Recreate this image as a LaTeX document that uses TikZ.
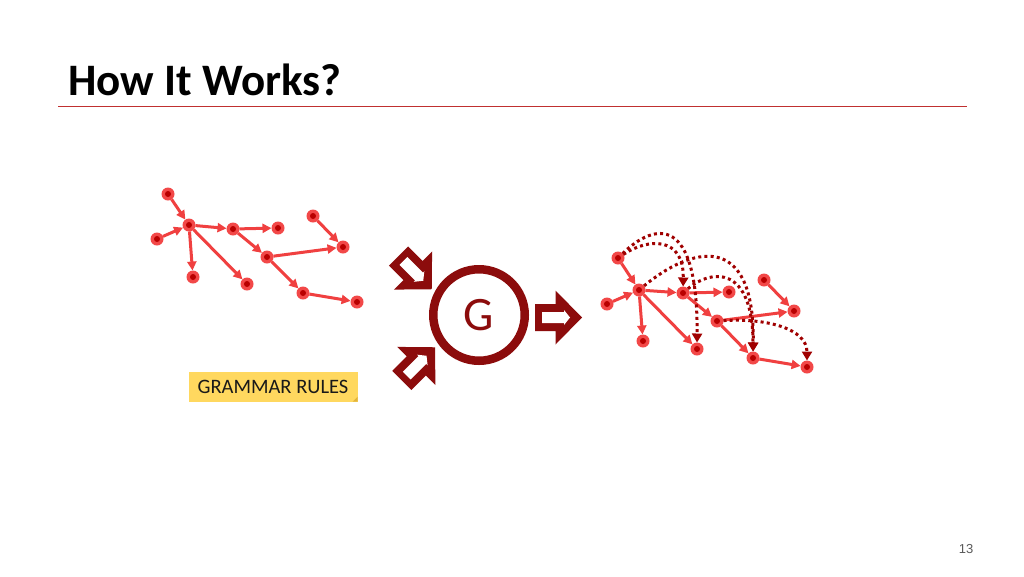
\documentclass[tikz,border=0pt]{standalone}
\usepackage{fontspec}
\setmainfont{Carlito}
\newfontfamily\pgfont{Liberation Sans}
\usetikzlibrary{arrows.meta}
\definecolor{nodeout}{RGB}{242,72,72}
\definecolor{nodein}{RGB}{185,0,0}
\definecolor{edgec}{RGB}{240,64,64}
\definecolor{dotc}{RGB}{160,0,0}
\definecolor{gred}{RGB}{140,12,12}
\definecolor{titleline}{RGB}{192,48,48}
\definecolor{noteyellow}{RGB}{255,216,95}
\definecolor{notefold}{RGB}{225,180,60}
\definecolor{pggray}{RGB}{90,90,90}
\definecolor{notetext}{RGB}{25,25,25}
\tikzset{
  gnode/.style={circle,fill=nodeout,minimum size=13pt,inner sep=0pt,outer sep=0pt,
    path picture={\fill[nodein] (path picture bounding box.center) circle (3pt);}},
  gedge/.style={draw=edgec,line width=3pt,-{Triangle[length=9pt,width=9pt]}},
  dedge/.style={draw=dotc,line width=3pt,dash pattern=on 3pt off 3.2pt,-{Triangle[length=9pt,width=10pt]}},
  arrowouter/.style={fill=gred},
  arrowinner/.style={fill=white},
}
\newcommand{\myblockarrow}{%
  \fill[arrowouter] (0,-13.5) -- (20.5,-13.5) -- (20.5,-27) -- (47,0) -- (20.5,27) -- (20.5,13.5) -- (0,13.5) -- cycle;
  \fill[arrowinner] (7,-5.5) -- (29,-5.5) -- (29,-7.5) -- (35,0) -- (29,7.5) -- (29,5.5) -- (7,5.5) -- cycle;}
\begin{document}
\begin{tikzpicture}[x=1pt,y=-1pt]
\useasboundingbox (0,0) rectangle (1024,576);
\fill[white] (0,0) rectangle (1024,576);

% title
\node[anchor=base west,inner sep=0pt,font=\fontsize{45}{50}\selectfont\bfseries] (title) at (68,95) {How It Works?};
\draw[titleline,line width=1.3pt] (58,106.5) -- (967,106.5);

% left graph nodes
\node[gnode] (a1) at (168,194) {};
\node[gnode] (b1) at (189,225) {};
\node[gnode] (c1) at (157,239) {};
\node[gnode] (d1) at (233,229) {};
\node[gnode] (e1) at (278,228) {};
\node[gnode] (f1) at (313,216) {};
\node[gnode] (g1) at (343,247) {};
\node[gnode] (h1) at (267,257) {};
\node[gnode] (i1) at (193,277) {};
\node[gnode] (j1) at (247,284) {};
\node[gnode] (k1) at (303,293) {};
\node[gnode] (l1) at (357,302) {};
\foreach \s/\t in {a1/b1,c1/b1,b1/d1,d1/e1,d1/h1,f1/g1,h1/g1,b1/i1,b1/j1,h1/k1,k1/l1}
  \draw[gedge] (\s) -- (\t);

% right graph nodes
\node[gnode] (a2) at (618,258) {};
\node[gnode] (b2) at (639,290) {};
\node[gnode] (c2) at (607,304) {};
\node[gnode] (d2) at (683,293) {};
\node[gnode] (e2) at (729,292) {};
\node[gnode] (f2) at (764,280) {};
\node[gnode] (g2) at (794,311) {};
\node[gnode] (h2) at (717,321) {};
\node[gnode] (i2) at (643,341) {};
\node[gnode] (j2) at (697,349) {};
\node[gnode] (k2) at (753,358) {};
\node[gnode] (l2) at (807,367) {};
\foreach \s/\t in {a2/b2,c2/b2,b2/d2,d2/e2,d2/h2,f2/g2,h2/g2,b2/i2,b2/j2,h2/k2,k2/l2}
  \draw[gedge] (\s) -- (\t);

% dotted derived edges
\draw[dedge] (a2) .. controls (648,238) and (684,236) .. (d2);
\draw[dedge] (a2) .. controls (655,222) and (698,214) .. (j2);
\draw[dedge] (b2) .. controls (690,248) and (755,228) .. (k2);
\draw[dedge] (d2) .. controls (712,268) and (753,266) .. (k2);
\draw[dedge] (h2) .. controls (765,318) and (807,328) .. (l2);

% generator
\node[circle,draw=gred,line width=8.5pt,minimum size=91.5pt,inner sep=0pt,
      text=gred,font=\fontsize{48}{50}\selectfont] (gen) at (479,315) {G};

% block arrows
\begin{scope}[shift={(398.5,256)},rotate=-45]
  \myblockarrow
\end{scope}
\begin{scope}[shift={(401.8,380.5)},rotate=45]
  \myblockarrow
\end{scope}
\begin{scope}[shift={(535,317.5)}]
  \myblockarrow
\end{scope}

% grammar rules note
\node[fill=noteyellow,minimum width=169pt,minimum height=30pt,inner sep=0pt,
      text=notetext,font=\fontsize{20.5}{24}\selectfont] (rules) at (273,386.5) {GRAMMAR RULES};
\fill[notefold] (rules.south east) ++(-5,0) -- ++(5,-5) -- ++(0,5) -- cycle;

% page number
\node[text=pggray,font=\pgfont\fontsize{13}{15}\selectfont,inner sep=0pt] (pg) at (966,549) {13};
\end{tikzpicture}
\end{document}
